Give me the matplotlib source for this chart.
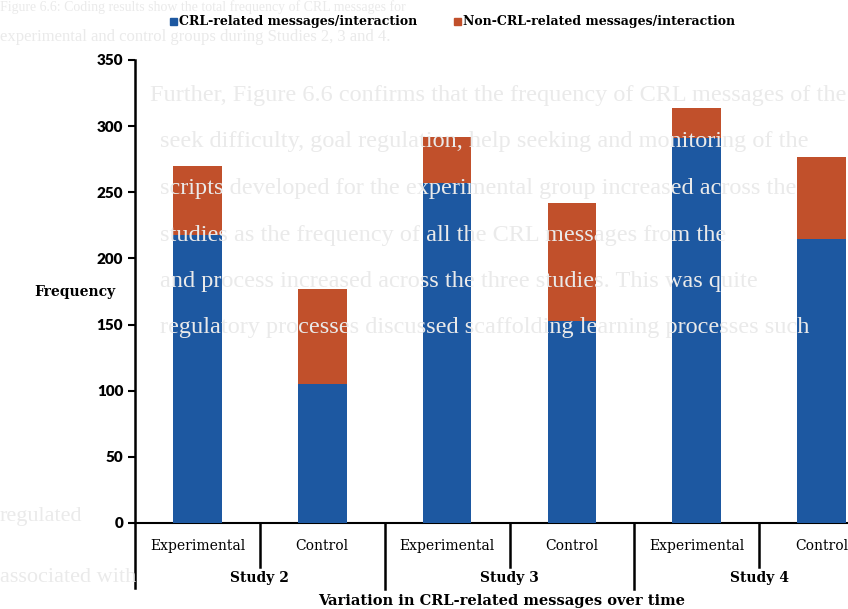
import matplotlib
matplotlib.use("Agg")
import matplotlib.pyplot as plt
from matplotlib.patches import Rectangle
from matplotlib.lines import Line2D

# data
groups = ["Experimental", "Control", "Experimental", "Control", "Experimental", "Control"]
studies = ["Study 2", "Study 3", "Study 4"]
crl = [218, 105, 257, 153, 291, 215]
non_crl = [52, 72, 35, 89, 23, 62]
series_names = ["CRL-related messages/interaction", "Non-CRL-related messages/interaction"]
yticks = [0, 50, 100, 150, 200, 250, 300, 350]

blue = "#1d58a1"
red = "#c1502b"
serif = "DejaVu Serif"

W, H = 848, 609
fig = plt.figure(figsize=(W / 100, H / 100), dpi=100)
fig.patch.set_facecolor("white")

# faint page text behind the chart
page_lines = [
    (0, 7, "Figure 6.6: Coding results show the total frequency of CRL messages for", 10),
    (0, 37, "experimental and control groups during Studies 2, 3 and 4.", 12),
    (150, 96, "Further, Figure 6.6 confirms that the frequency of CRL messages of the", 17.5),
    (160, 142, "seek difficulty, goal regulation, help seeking and monitoring of the", 17.5),
    (160, 188, "scripts developed for the experimental group increased across the", 17.5),
    (160, 235, "studies as the frequency of all the CRL messages from the", 17.5),
    (160, 281, "and process increased across the three studies. This was quite", 17.5),
    (160, 328, "regulatory processes discussed scaffolding learning processes such", 17.5),
    (0, 516, "regulated", 16),
    (0, 578, "associated with", 16),
]
for x, y, txt, fs in page_lines:
    fig.text(x / W, 1 - y / H, txt, fontsize=fs, family="Liberation Serif",
             color="#eaeaea", ha="left", va="center", zorder=0)

x0, x1 = 135, 884
y0, y1 = 523, 60
ax = fig.add_axes([x0 / W, 1 - y0 / H, (x1 - x0) / W, (y0 - y1) / H])
ax.patch.set_alpha(0)

xs = range(len(groups))
ax.bar(xs, crl, width=0.39, color=blue, zorder=3)
ax.bar(xs, non_crl, width=0.39, bottom=crl, color=red, zorder=3)

ax.set_xlim(-0.5, len(groups) - 0.5)
ax.set_ylim(0, 350)
ax.set_yticks(yticks)
ax.set_xticks([])
ax.tick_params(axis="y", direction="out", length=5, width=1.5, pad=3.5)
for lbl in ax.get_yticklabels():
    lbl.set_fontfamily("Lato")
    lbl.set_fontweight("heavy")
    lbl.set_fontsize(11)

for s in ["top", "right", "left"]:
    ax.spines[s].set_visible(False)
ax.spines["bottom"].set_linewidth(1.5)

# y axis line runs down through the category area
ax.add_line(Line2D([0, 0], [-0.141, 1.0], transform=ax.transAxes,
                   color="black", lw=1.8, clip_on=False))

# category separators under the axis
trans = ax.get_xaxis_transform()
for i in range(1, len(groups)):
    bottom = -0.142 if i % 2 == 0 else -0.095
    ax.add_line(Line2D([i - 0.5, i - 0.5], [0, bottom], transform=trans,
                       color="black", lw=1.8, clip_on=False))

for i, g in enumerate(groups):
    ax.text(i, -0.05, g, transform=trans, ha="center", va="center",
            fontsize=10, family=serif)
for j, s in enumerate(studies):
    ax.text(2 * j + 0.5, -0.119, s, transform=trans, ha="center", va="center",
            fontsize=10, family=serif, fontweight="bold")

fig.text(502 / W, 1 - 601 / H, "Variation in CRL-related messages over time",
         ha="center", va="center", fontsize=10.5, family=serif, fontweight="bold")
fig.text(75 / W, 1 - 292 / H, "Frequency", ha="center", va="center",
         fontsize=10, family=serif, fontweight="bold")

# legend
for (sx, tx), name, c in zip([(170, 179), (454, 463)], series_names, [blue, red]):
    fig.patches.append(Rectangle((sx / W, 1 - 25 / H), 7 / W, 7 / H,
                                 transform=fig.transFigure, color=c))
    fig.text(tx / W, 1 - 21 / H, name, ha="left", va="center",
             fontsize=9, family=serif, fontweight="bold")

fig.savefig("out.png", dpi=100)
